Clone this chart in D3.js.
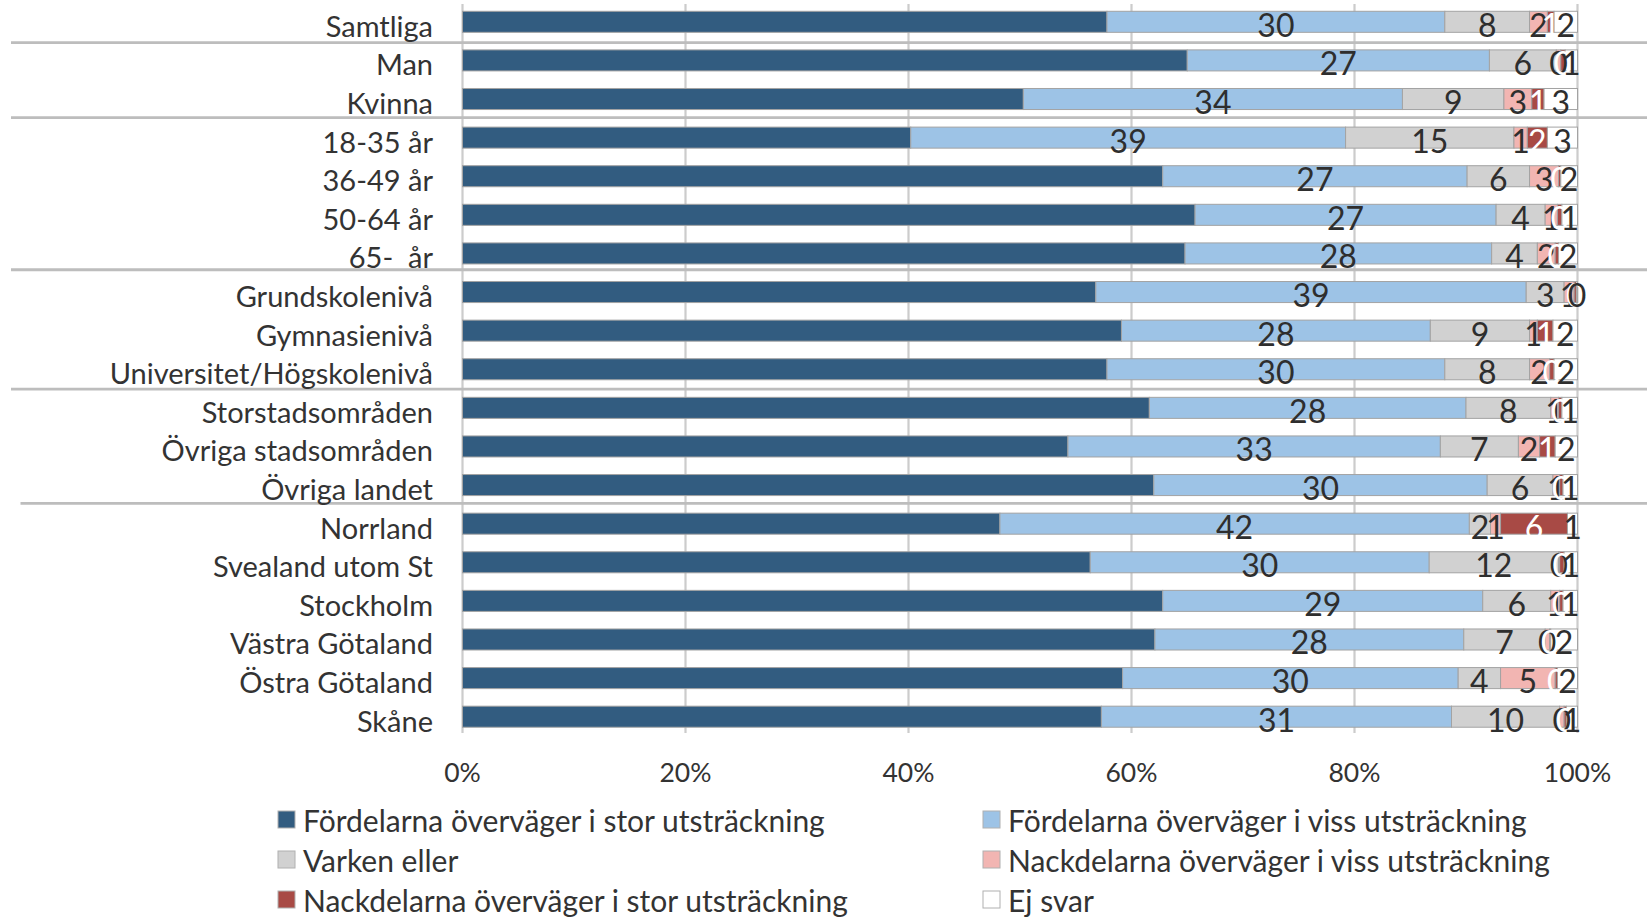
<!DOCTYPE html>
<html><head><meta charset="utf-8">
<script src="https://cdn.jsdelivr.net/npm/d3@7"></script>
<style>
body{margin:0;background:#fff}
svg text{font-family:Lato,"Open Sans",sans-serif;fill:#333;white-space:pre}
</style>
</head><body>
<svg id="chart" width="1647" height="918"></svg>
<script>
const categories = ["Samtliga","Man","Kvinna","18-35 år","36-49 år","50-64 år","65-  år","Grundskolenivå","Gymnasienivå","Universitet/Högskolenivå","Storstadsområden","Övriga stadsområden","Övriga landet","Norrland","Svealand utom St","Stockholm","Västra Götaland","Östra Götaland","Skåne"];
const seriesNames = ["Fördelarna överväger i stor utsträckning","Fördelarna överväger i viss utsträckning","Varken eller","Nackdelarna överväger i viss utsträckning","Nackdelarna överväger i stor utsträckning","Ej svar"];
const fordelStor   = [57.8,65.0,50.3,40.2,62.8,65.7,64.8,56.8,59.1,57.8,61.6,54.3,62.0,48.2,56.3,62.8,62.1,59.2,57.3];
const fordelViss   = [30.3,27.1,34.0,39.0,27.3,27.0,27.5,38.6,27.7,30.3,28.4,33.4,29.9,42.1,30.4,28.7,27.7,30.1,31.4];
const varkenEller  = [7.6,6.0,9.1,15.1,5.6,4.4,4.1,3.4,8.9,7.6,7.6,7.0,5.9,1.9,11.6,6.1,7.3,3.8,9.7];
const nackdelViss  = [1.6,0.4,2.5,1.2,2.6,1.1,1.6,0.9,0.7,1.8,0.7,1.9,0.6,0.9,0.1,0.8,0.4,4.9,0.4];
const nackdelStor  = [0.6,0.4,1.1,1.8,0.2,0.4,0.3,0.2,1.4,0.4,0.3,1.4,0.3,6.0,0.4,0.3,0.1,0.2,0.2];
const ejSvar       = [2.1,1.1,3.0,2.7,1.5,1.4,1.7,0.1,2.2,2.1,1.4,2.0,1.3,0.9,1.2,1.3,2.4,1.8,1.0];
const tickValues = [0,20,40,60,80,100];
const groupEnds = ["Samtliga","Kvinna","65-  år","Universitet/Högskolenivå","Övriga landet"];

// layout/style constants
const colors = ["#325c80","#9dc3e6","#d1d1d1","#f2b5b2","#a84a45","#ffffff"];
const labelColors = [null,"#2e2e2e","#2e2e2e","#2e2e2e","#ffffff","#2e2e2e"];
const sepNudge = [1.6,-0.6,-3,0.5,-1];

const seriesValues = [fordelStor,fordelViss,varkenEller,nackdelViss,nackdelStor,ejSvar];
const keys = d3.range(seriesNames.length);
const table = categories.map((c,i)=>{const o={cat:c}; keys.forEach(k=>o[k]=seriesValues[k][i]); return o;});
const stacked = d3.stack().keys(keys)(table);

const svg = d3.select("#chart");
const x = d3.scaleLinear().domain([0,100]).range([462.5,1577.5]);
const y = d3.scaleBand().domain(categories).range([2.5,736]).paddingInner(0.455).paddingOuter(0.2275);

// gridlines
svg.append("g").selectAll("line").data(tickValues).join("line")
  .attr("x1",d=>x(d)).attr("x2",d=>x(d))
  .attr("y1",4).attr("y2",733)
  .attr("stroke","#cccccc").attr("stroke-width",2.2);

// group separators
const sepY = (d,i)=> y(d)+y.bandwidth()+y.step()*y.paddingInner()/2+sepNudge[i];
svg.append("g").selectAll("line").data(groupEnds).join("line")
  .attr("x1",(d,i)=> i===groupEnds.length-1 ? 20.5 : 11)
  .attr("x2",1647)
  .attr("y1",sepY).attr("y2",sepY)
  .attr("stroke","#bdbdbd").attr("stroke-width",2.8);

// bars
const layers = svg.append("g").selectAll("g").data(stacked).join("g")
  .attr("fill",(d,i)=>colors[i]);
layers.selectAll("rect").data(d=>d.map(v=>({v,cat:v.data.cat}))).join("rect")
  .attr("x",d=>x(d.v[0])).attr("width",d=>Math.max(0,x(d.v[1])-x(d.v[0])))
  .attr("y",d=>y(d.cat)).attr("height",y.bandwidth())
  .attr("stroke","#a3a3a3").attr("stroke-width",1);

// value labels
stacked.forEach((layer,i)=>{
  if(!labelColors[i]) return;
  svg.append("g").selectAll("text").data(layer).join("text")
    .attr("x",d=>x((d[0]+d[1])/2))
    .attr("y",d=>y(d.data.cat)+y.bandwidth()/2+15)
    .attr("text-anchor","middle")
    .style("font-size","32px").style("fill",labelColors[i])
    .text(d=>Math.round(d[1]-d[0]));
});

// category labels
svg.append("g").selectAll("text").data(categories).join("text")
  .attr("x",433).attr("y",d=>y(d)+y.bandwidth()/2+15)
  .attr("text-anchor","end").style("font-size","29px")
  .text(d=>d);

// x axis tick labels
svg.append("g").selectAll("text").data(tickValues).join("text")
  .attr("x",d=>x(d)).attr("y",782)
  .attr("text-anchor","middle").style("font-size","26.5px")
  .text(d=>d+"%");

// legend
const legend = svg.append("g").selectAll("g").data(seriesNames).join("g")
  .attr("transform",(d,i)=>`translate(${i%2===0?278:983},${811+Math.floor(i/2)*40})`);
legend.append("rect").attr("width",17).attr("height",17)
  .attr("fill",(d,i)=>colors[i]).attr("stroke","#b0b0b0").attr("stroke-width",1);
legend.append("text").attr("x",25).attr("y",21).style("font-size","30px").text(d=>d);
</script>
</body></html>
